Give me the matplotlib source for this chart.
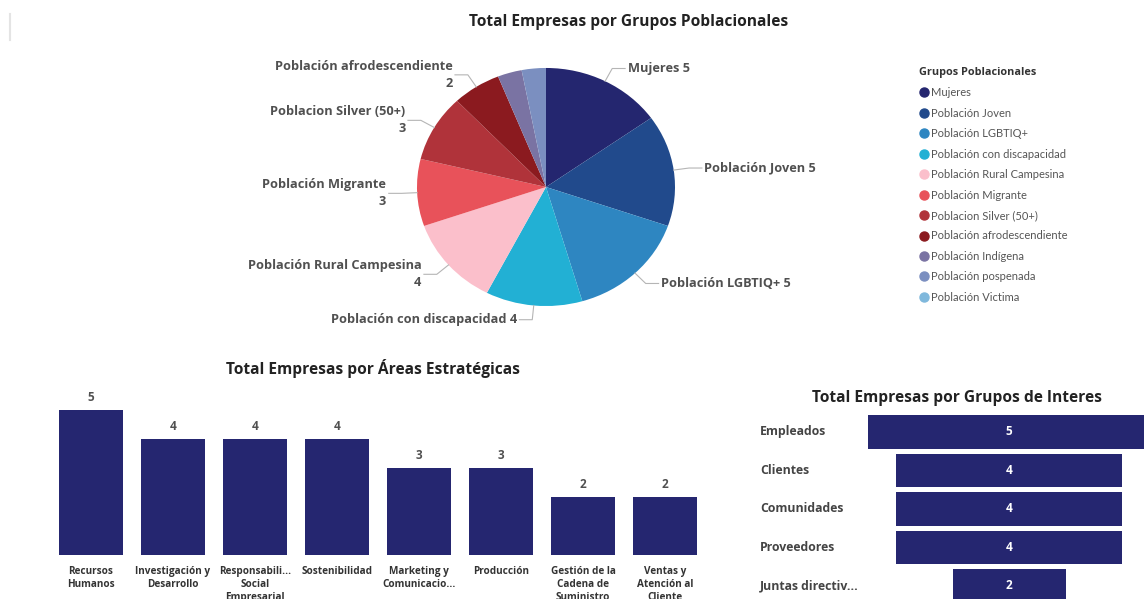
import numpy as np
import matplotlib
matplotlib.use("Agg")
import matplotlib.pyplot as plt
from matplotlib.lines import Line2D
from matplotlib import transforms

plt.rcParams['font.family'] = ['Open Sans', 'DejaVu Sans']

# ---- data ----
grupos = ["Mujeres", "Población Joven", "Población LGBTIQ+", "Población con discapacidad",
          "Población Rural Campesina", "Población Migrante", "Poblacion Silver (50+)",
          "Población afrodescendiente", "Población Indígena", "Población pospenada",
          "Población Victima"]
grupos_val = [5, 5, 5, 4, 4, 3, 3, 2, 1, 1, 0]
grupos_col = ["#24266f", "#214a8c", "#2e86c1", "#22b0d4", "#fbbfcb", "#e8525a",
              "#b0333a", "#8b1a1f", "#7a73a3", "#7b8fc0", "#7fb8dc"]
grupos_etiqueta = [True, True, True, True, True, True, True, True, False, False, False]

areas = ["Recursos\nHumanos", "Investigación y\nDesarrollo", "Responsabili...\nSocial\nEmpresarial",
         "Sostenibilidad", "Marketing y\nComunicacio...", "Producción",
         "Gestión de la\nCadena de\nSuministro", "Ventas y\nAtención al\nCliente"]
areas_val = [5, 4, 4, 4, 3, 3, 2, 2]

interes = ["Empleados", "Clientes", "Comunidades", "Proveedores", "Juntas directiv..."]
interes_val = [5, 4, 4, 4, 2]

navy = "#252670"
gris = "#505050"

W, H = 1144, 599
fig = plt.figure(figsize=(W / 100, H / 100), dpi=100)


def box(x0, y0, x1, y1):
    # pixel box (top-left origin) -> figure axes
    return fig.add_axes([x0 / W, 1 - y1 / H, (x1 - x0) / W, (y1 - y0) / H])


# faint separator at the top left
fig.add_artist(Line2D([10 / W, 10 / W], [1 - 14 / H, 1 - 40 / H], color="#e4e4e4", lw=1.5))

# ---- pie ----
fig.text(629 / W, 1 - 22 / H, "Total Empresas por Grupos Poblacionales", ha="center", va="center",
         fontsize=11.2, fontweight="bold", color="#222222")

axp = box(200, 40, 892, 334)
idx = [i for i, v in enumerate(grupos_val) if v > 0]
vals = [grupos_val[i] for i in idx]
wedges, _ = axp.pie(vals, colors=[grupos_col[i] for i in idx], startangle=90, counterclock=False,
                    wedgeprops=dict(linewidth=0))
axp.set_aspect("auto")
axp.set_xlim(-2.682, 2.682)
axp.set_ylim(-1.235, 1.235)
axp.axis("off")

total = sum(vals)
acum = 0
for k, i in enumerate(idx):
    v = grupos_val[i]
    mid = np.deg2rad((acum + v / 2) / total * 360)
    acum += v
    if not grupos_etiqueta[i]:
        continue
    sx, sy = np.sin(mid), np.cos(mid)
    x0, y0 = 1.0 * sx, 1.0 * sy
    x1, y1 = 1.12 * sx, 1.12 * sy
    der = sx > 0
    x2 = x1 + (0.1 if der else -0.1)
    axp.plot([x0, x1, x2], [y0, y1, y1], color="#b5b5b5", lw=0.8, clip_on=False)
    deg = np.rad2deg(mid)
    if 200 < deg < 350:
        txt = f"{grupos[i]}\n{v}"
    else:
        txt = f"{grupos[i]} {v}"
    axp.text(x2 + (0.02 if der else -0.02), y1, txt, ha="left" if der else "right", va="center",
             fontsize=9.2, fontweight="bold", color=gris, linespacing=1.4, multialignment="right")

# legend
handles = [Line2D([], [], marker="o", ls="none", markersize=6.5, markerfacecolor=c,
                  markeredgecolor=c) for c in grupos_col]
leg = fig.legend(handles, grupos, loc="upper left", bbox_to_anchor=(910 / W, 1 - 58 / H),
                 frameon=False, prop={"family": "Lato", "size": 8}, title="Grupos Poblacionales",
                 title_fontproperties={"family": "Open Sans", "weight": "bold", "size": 7.8},
                 handletextpad=0.05, handlelength=1.0, labelspacing=0.85, borderpad=0.3)
leg._legend_box.align = "left"
for t in leg.get_texts():
    t.set_color("#555555")
leg.get_title().set_color("#333333")

# ---- vertical bars ----
fig.text(373 / W, 1 - 369 / H, "Total Empresas por Áreas Estratégicas", ha="center", va="center",
         fontsize=11.2, fontweight="bold", color="#222222")
axb = box(50, 395.5, 706, 555)
xs = np.arange(len(areas))
axb.bar(xs, areas_val, width=0.78, color=navy)
axb.set_xlim(-0.5, len(areas) - 0.5)
axb.set_ylim(0, 5.5)
for x, v in zip(xs, areas_val):
    axb.text(x, v + 0.2, str(v), ha="center", va="bottom", fontsize=8.5, fontweight="bold", color=gris)
axb.set_xticks(xs)
axb.set_xticklabels(areas, fontsize=7.2, fontweight="bold", color="#333333", linespacing=1.25)
axb.tick_params(axis="x", length=0, pad=8)
axb.set_yticks([])
for s in axb.spines.values():
    s.set_visible(False)

# ---- funnel ----
fig.text(957 / W, 1 - 398 / H, "Total Empresas por Grupos de Interes", ha="center", va="center",
         fontsize=11.2, fontweight="bold", color="#222222")
axf = box(860, 412, 1144, 599)
ys = np.arange(len(interes))
axf.barh(ys, interes_val, left=[-v / 2 for v in interes_val], height=0.88, color=navy)
axf.set_xlim(-2.637, 2.389)
axf.set_ylim(4.338, -0.519)
axf.axis("off")
tr = transforms.blended_transform_factory(fig.transFigure, axf.transData)
for y, name, v in zip(ys, interes, interes_val):
    axf.text(0, y, str(v), ha="center", va="center", fontsize=8.5, fontweight="bold", color="white")
    axf.text(760 / W, y, name, transform=tr, ha="left", va="center", fontsize=8.8,
             fontweight="bold", color="#444444", clip_on=False)

fig.savefig("out.png", dpi=100, facecolor="white")
